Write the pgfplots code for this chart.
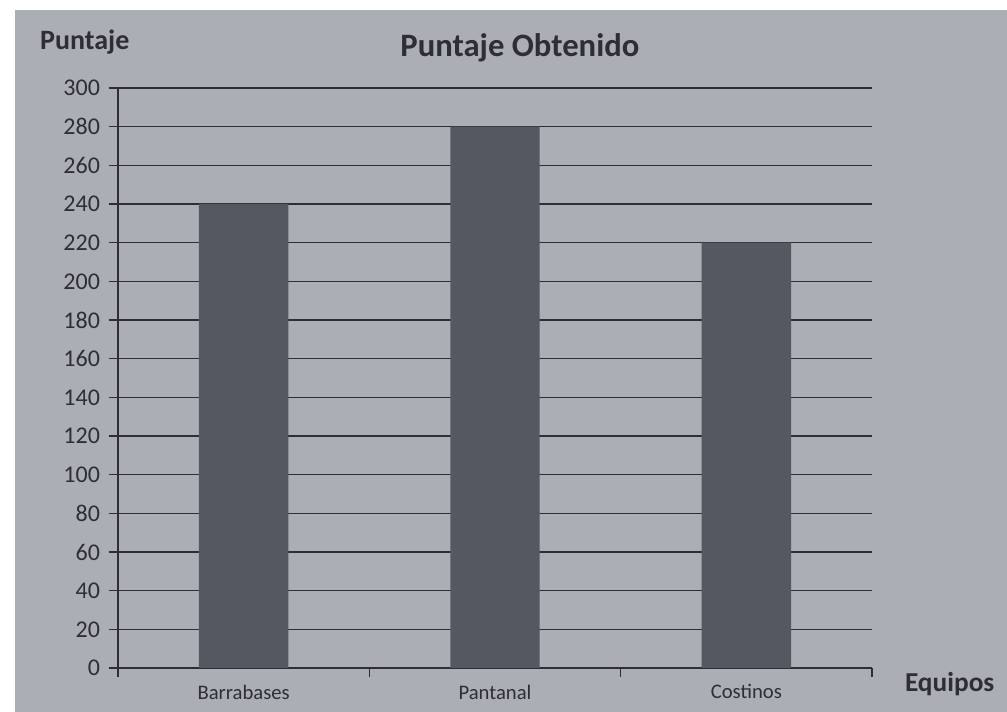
\documentclass[border=0pt]{standalone}
\usepackage{pgfplots}
\pgfplotsset{compat=1.18}
\usepackage{fontspec}
\setmainfont{Carlito}
\definecolor{paper}{RGB}{172,174,182}
\definecolor{barcol}{RGB}{86,88,97}
\definecolor{ink}{RGB}{45,47,53}
\begin{document}
\begin{tikzpicture}
% photo background (1px = 0.75pt, axis origin at px 118,668)
\fill[white] (-88.5pt,-33pt) rectangle (666.75pt,501pt);
\fill[paper] (-77pt,-33pt) rectangle (666.75pt,493.5pt);
\begin{axis}[
    scale only axis,
    width=565.5pt, height=435pt,
    ybar, bar width=67pt,
    xmin=0.5, xmax=3.5, ymin=0, ymax=300,
    ytick={0,20,...,300},
    xtick={1,2,3},
    xticklabels={Barrabases,Pantanal,Costinos},
    minor xtick={0.5,1.5,2.5,3.5},
    major x tick style={draw=none},
    tick align=outside, tick pos=left,
    major tick length=7pt, minor tick length=7pt,
    tick style={ink, line width=0.8pt},
    ymajorgrids, grid style={ink, line width=0.9pt},
    axis x line*=bottom, axis y line*=left,
    axis line style={ink, line width=0.9pt},
    yticklabel style={font=\fontsize{18}{18}\selectfont, text=ink, xshift=-3pt},
    xticklabel style={font=\fontsize{15.5}{15.5}\selectfont, text=ink, yshift=-2pt},
    /pgf/number format/assume math mode=true,
    clip=false,
]
\addplot[fill=barcol, draw=none] coordinates {(1,240) (2,280) (3,220)};
\node[font=\bfseries\fontsize{24.5}{24.5}\selectfont, text=ink] at (rel axis cs:0.533,1.069) {Puntaje Obtenido};
\node[font=\bfseries\fontsize{21}{21}\selectfont, text=ink] at (rel axis cs:-0.044,1.079) {Puntaje};
\node[font=\bfseries\fontsize{20.5}{20.5}\selectfont, text=ink] at (rel axis cs:1.103,-0.028) {Equipos};
\end{axis}
\end{tikzpicture}
\end{document}
